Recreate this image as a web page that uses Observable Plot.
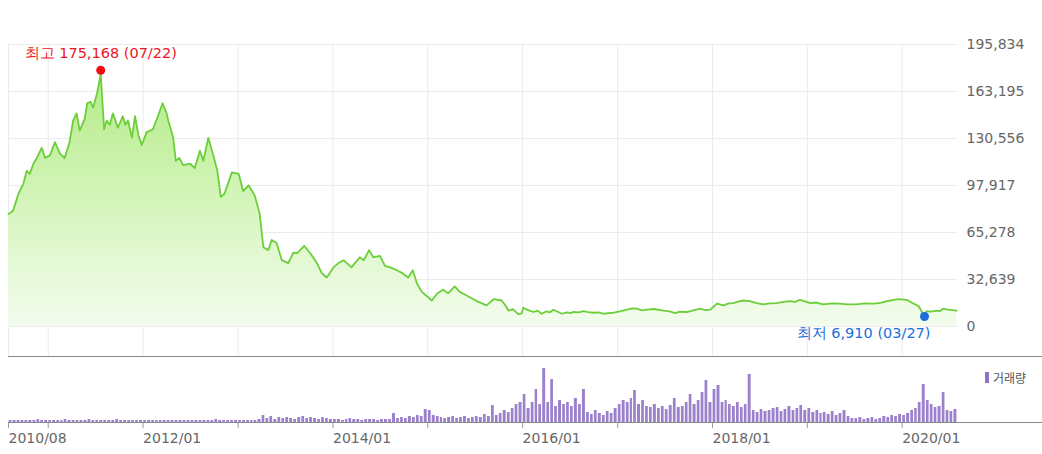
<!DOCTYPE html>
<html>
<head>
<meta charset="utf-8">
<script src="https://cdn.jsdelivr.net/npm/d3@7"></script>
<script src="https://cdn.jsdelivr.net/npm/@observablehq/plot@0.6"></script>
<style>
  html, body { margin: 0; padding: 0; background: #fff; }
  #chart { position: relative; width: 1042px; height: 454px; overflow: hidden; font-family: "DejaVu Sans", sans-serif; }
  #chart > .panel { position: absolute; left: 0; }
  .hline { position: absolute; height: 0; border-top: 1px solid #8a8a8a; }
  #legend { position: absolute; left: 985px; top: 369px; font-size: 12px; color: #555; font-family: "Noto Sans CJK KR", sans-serif; display: flex; align-items: center; }
  #legend i { display: inline-block; width: 4px; height: 11px; background: #8f72c4; margin-right: 4px; }
</style>
</head>
<body>
<div id="chart">
  <div class="panel" id="price" style="top:0"></div>
  <div class="hline" style="top:356px; left:8px; width:1034px;"></div>
  <div class="panel" id="volume" style="top:357px"></div>
  <div class="hline" style="top:422px; left:8px; width:1034px;"></div>
  <div id="legend"><i></i>거래량</div>
</div>
<script>
// ---- price series (closing price) ----
const priceDates = [
  "2010-08-01","2010-08-19","2010-09-08","2010-09-27","2010-10-10","2010-10-22","2010-11-05","2010-11-18","2010-12-07","2010-12-20",
  "2011-01-08","2011-01-27","2011-02-15","2011-03-05","2011-03-24","2011-04-07","2011-04-20","2011-05-02","2011-05-21","2011-05-31",
  "2011-06-13","2011-06-23","2011-07-08","2011-07-22","2011-08-04","2011-08-14","2011-08-26","2011-09-07","2011-09-26","2011-10-15",
  "2011-10-25","2011-11-04","2011-11-19","2011-12-01","2011-12-14","2011-12-27",
  "2012-01-15","2012-02-08","2012-02-27","2012-03-16","2012-04-01","2012-04-07","2012-04-26","2012-05-06","2012-05-19","2012-06-04",
  "2012-06-30","2012-07-18","2012-08-07","2012-08-20","2012-09-08","2012-09-27","2012-10-13","2012-10-26","2012-11-09","2012-12-08",
  "2013-01-03","2013-01-20","2013-02-10","2013-03-06","2013-03-25","2013-04-08","2013-04-27","2013-05-10","2013-05-29","2013-06-18",
  "2013-07-13","2013-08-01","2013-08-17","2013-09-12","2013-10-05","2013-10-20","2013-10-31","2013-11-19","2013-12-08",
  "2014-01-03","2014-01-22","2014-02-11","2014-03-13","2014-04-14","2014-04-30","2014-05-20","2014-06-05","2014-07-01","2014-07-20",
  "2014-08-10","2014-09-04","2014-09-25","2014-10-18","2014-11-04","2014-11-20","2014-12-09",
  "2015-01-17","2015-02-05","2015-03-01","2015-03-20","2015-04-15","2015-05-04","2015-05-25","2015-06-24","2015-07-15","2015-08-15",
  "2015-09-13","2015-10-12","2015-10-25","2015-11-07","2015-11-25","2015-12-15","2015-12-28",
  "2016-01-04","2016-01-20","2016-02-12","2016-02-28","2016-03-14","2016-04-02","2016-04-15","2016-04-28","2016-05-15","2016-05-31",
  "2016-06-20","2016-07-05","2016-07-14","2016-08-05","2016-08-22","2016-09-10","2016-09-30","2016-10-20","2016-11-08","2016-11-28",
  "2016-12-16",
  "2017-01-10","2017-02-06","2017-02-25","2017-03-15","2017-04-05","2017-04-23","2017-05-20","2017-06-26","2017-07-20","2017-08-10",
  "2017-08-28","2017-09-24","2017-10-15","2017-11-14","2017-12-05","2017-12-23",
  "2018-01-18","2018-02-12","2018-03-05","2018-03-21","2018-04-10","2018-04-29","2018-05-24","2018-06-20","2018-07-15","2018-08-10",
  "2018-09-05","2018-10-01","2018-10-26","2018-11-15","2018-12-04",
  "2019-01-12","2019-02-05","2019-03-02","2019-04-05","2019-05-05","2019-06-05","2019-07-09","2019-08-10","2019-09-12","2019-10-10",
  "2019-11-03","2019-12-17",
  "2020-01-19","2020-02-14","2020-03-05","2020-03-27","2020-04-04","2020-04-20","2020-05-12","2020-05-25","2020-06-07","2020-06-25",
  "2020-07-29"
];
const priceValues = [
  78000,80500,92000,99000,108000,106000,113000,117000,124000,117000,
  119000,128000,120000,117000,128000,143000,148000,136000,144000,155000,
  156000,152000,162000,175168,137000,143000,140000,148000,138000,146000,
  140000,143000,131000,146000,133000,126000,
  135000,137000,146000,155000,148000,143000,131000,115000,117000,112000,
  113000,110000,122000,115000,131000,119000,108000,90000,92000,107000,
  106000,94000,98000,91000,78000,55000,53000,60000,58000,46000,
  44000,51000,51000,56000,51000,47000,44000,37000,34000,
  41000,44000,46000,41000,48000,46000,53000,48000,49000,42000,
  41000,39000,37000,34000,39000,30000,24000,
  18000,22700,25500,23000,27800,24000,22000,19000,17000,14600,
  19000,18000,15000,11000,12000,8500,9000,
  13000,11500,10000,11000,8800,10500,9800,11600,10200,8800,
  9800,9200,10000,9700,10600,10000,9500,9800,8800,9300,
  9500,
  10500,11600,12500,12300,11200,11600,12100,11000,10400,9200,
  10200,10000,11000,12300,11300,11600,
  15800,14600,16000,16200,17200,18000,17600,16200,15300,16000,
  16200,17000,17600,17000,18500,
  16200,16600,15300,16000,15800,15300,15300,16000,15800,16300,
  17600,19000,
  18500,15800,14000,6910,10600,10200,11000,10600,12300,11700,
  11000
];

// ---- volume (half-month periods starting 2010-08-01, relative units) ----
const volumeStart = "2010-08-01";
const volumeValues = [
  // 2010 Aug-Dec
  2,2,2,2,2,2,2,3,2,2,
  // 2011
  2,2,2,2,3,2,2,2,2,2,3,2,2,2,2,2,2,3,2,2,2,2,2,2,
  // 2012
  2,2,2,2,2,2,2,2,2,2,2,2,2,2,2,2,2,2,3,2,2,2,2,2,
  // 2013
  2,2,2,2,2,3,7,4,6,3,5,4,5,4,3,5,6,4,5,4,3,5,4,3,
  // 2014
  3,3,2,3,4,3,3,2,3,3,3,2,3,3,3,9,4,5,4,6,5,7,6,13,
  // 2015
  12,7,6,5,4,5,6,4,5,6,4,5,6,5,8,6,17,7,9,12,10,14,18,20,
  // 2016
  28,14,20,33,18,54,20,43,16,22,18,20,16,24,18,33,10,8,12,9,7,11,9,14,
  // 2017
  18,22,20,24,32,18,22,16,15,18,14,16,13,17,24,15,16,20,28,18,22,30,42,20,
  // 2018
  33,37,20,22,18,16,20,15,18,48,12,10,13,11,12,14,15,11,13,16,12,14,17,12,
  // 2019
  14,10,12,9,10,8,11,7,9,12,6,4,4,5,3,4,5,3,4,6,5,7,6,8,
  // 2020 Jan-Jul
  7,9,12,14,20,38,22,18,15,16,30,12,11,13
];

// ---- axes ----
const xDomain = ["2010-08-01", "2020-08-01"];
const yTicks = [0, 32639, 65278, 97917, 130556, 163195, 195834];
const gridDates = ["2010-08-01","2011-01-01","2012-01-01","2013-01-01","2014-01-01","2015-01-01","2016-01-01","2017-01-01","2018-01-01","2019-01-01","2020-01-01"];
const labelDates = ["2010-08-01","2012-01-01","2014-01-01","2016-01-01","2018-01-01","2020-01-01"];
const peakDate = "2011-07-22", peakValue = 175168;
const lowDate = "2020-03-27", lowValue = 6910;

const P = s => new Date(s + "T00:00:00Z");
const price = priceDates.map((d, i) => ({date: P(d), value: priceValues[i]}));
const vStart = P(volumeStart);
const volume = volumeValues.map((v, i) => {
  const m = Math.floor(i / 2), h = i % 2;
  const x1 = new Date(Date.UTC(vStart.getUTCFullYear(), vStart.getUTCMonth() + m, h ? 16 : 1));
  const x2 = h ? new Date(Date.UTC(vStart.getUTCFullYear(), vStart.getUTCMonth() + m + 1, 1))
               : new Date(Date.UTC(vStart.getUTCFullYear(), vStart.getUTCMonth() + m, 16));
  return {x1, x2, v};
});
const fmt = d3.format(",");
const md = d3.utcFormat("%m/%d");
const W = 1042, ML = 8, MR = 85;
const font = {fontFamily: "DejaVu Sans, sans-serif", fontSize: "14px", background: "transparent", overflow: "visible"};

const pricePlot = Plot.plot({
  width: W, height: 358,
  marginLeft: ML, marginRight: MR, marginTop: 44, marginBottom: 2,
  style: font,
  x: {type: "utc", domain: xDomain.map(P), axis: null},
  y: {domain: [-20900, 195834], axis: null},
  marks: [
    Plot.gridX(gridDates.map(P), {stroke: "#ebebeb", strokeOpacity: 1}),
    Plot.gridY(yTicks, {stroke: "#ebebeb", strokeOpacity: 1}),
    Plot.axisY(yTicks, {anchor: "right", label: null, tickSize: 0, tickPadding: 9, tickFormat: fmt, fill: "#666", fontSize: 14}),
    Plot.areaY(price, {x: "date", y: "value", fill: "url(#priceGrad)"}),
    Plot.lineY(price, {x: "date", y: "value", stroke: "#6ccf3a", strokeWidth: 1.8}),
    Plot.dot([{date: P(peakDate), value: peakValue}], {x: "date", y: "value", r: 4.5, fill: "#f50a14", dy: -4}),
    Plot.text([{date: P(peakDate), value: peakValue}], {x: "date", y: "value", text: d => `최고 ${fmt(d.value)} (${md(d.date)})`, fill: "#f0141e", fontSize: 14.5, dy: -21, textAnchor: "middle"}),
    Plot.dot([{date: P(lowDate), value: lowValue}], {x: "date", y: "value", r: 4.5, fill: "#1b6fdc"}),
    Plot.text([{date: P(lowDate), value: lowValue}], {x: "date", y: "value", text: d => `최저 ${fmt(d.value)} (${md(d.date)})`, fill: "#1a6fdc", fontSize: 14.5, dy: 17, dx: 6, textAnchor: "end"})
  ]
});
// gradient fill for the price area
const NS = "http://www.w3.org/2000/svg";
const defs = document.createElementNS(NS, "defs");
const grad = document.createElementNS(NS, "linearGradient");
grad.setAttribute("id", "priceGrad");
grad.setAttribute("gradientUnits", "userSpaceOnUse");
grad.setAttribute("x1", "0"); grad.setAttribute("x2", "0");
grad.setAttribute("y1", "60"); grad.setAttribute("y2", "326");
[["0", "#b0ea82"], ["0.55", "#d6f5bd"], ["1", "#f3fcee"]].forEach(([o, c]) => {
  const s = document.createElementNS(NS, "stop");
  s.setAttribute("offset", o); s.setAttribute("stop-color", c);
  grad.appendChild(s);
});
defs.appendChild(grad);
pricePlot.insertBefore(defs, pricePlot.firstChild);
document.getElementById("price").appendChild(pricePlot);

const volumePlot = Plot.plot({
  width: W, height: 97,
  marginLeft: ML, marginRight: MR, marginTop: 3, marginBottom: 32,
  style: font,
  x: {type: "utc", domain: xDomain.map(P), axis: null},
  y: {domain: [0, 62], axis: null},
  marks: [
    Plot.rectY(volume, {x1: "x1", x2: "x2", y: "v", fill: "#9b80cc", insetLeft: 0.6, insetRight: 0.6}),
    Plot.axisX(gridDates.map(P), {label: null, tickSize: 6, tickFormat: () => "", stroke: "#9a9a9a"}),
    Plot.axisX(labelDates.map(P), {label: null, tickSize: 0, tickPadding: 11, tickFormat: d3.utcFormat("%Y/%m"), textAnchor: "start", fill: "#666", fontSize: 14})
  ]
});
document.getElementById("volume").appendChild(volumePlot);
</script>
</body>
</html>
